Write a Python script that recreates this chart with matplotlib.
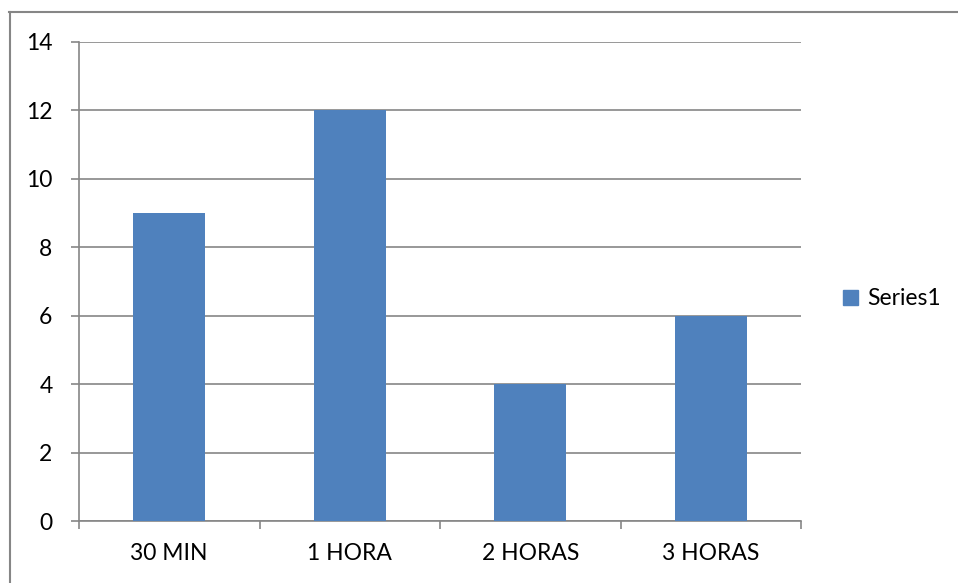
import matplotlib
matplotlib.use("Agg")
import matplotlib.pyplot as plt
from matplotlib.lines import Line2D
from matplotlib.patches import Patch

categories = ["30 MIN", "1 HORA", "2 HORAS", "3 HORAS"]
values = [9, 12, 4, 6]
series_name = "Series1"
yticks = [0, 2, 4, 6, 8, 10, 12, 14]

W, H = 958, 583
fig = plt.figure(figsize=(W / 100, H / 100), dpi=100)
plt.rcParams['font.family'] = ['Lato', 'DejaVu Sans']

L, R, T, B = 79, 801, 42, 521
ax = fig.add_axes([L / W, 1 - B / H, (R - L) / W, (B - T) / H])

grid_c = "#868686"
bar_c = "#4F81BD"
fs = 16.5

x = list(range(len(categories)))
ax.bar(x, values, width=0.4, color=bar_c, zorder=3)
ax.set_xlim(-0.5, len(categories) - 0.5)
ax.set_ylim(0, 14)
ax.set_yticks(yticks)
ax.set_yticklabels([str(v) for v in yticks], fontsize=fs)
ax.yaxis.grid(True, color=grid_c, linewidth=1.2, zorder=0)
ax.set_xticks(x)
ax.set_xticklabels(categories, fontsize=fs)
ax.tick_params(axis='x', length=0, pad=16)
ax.set_xticks([i - 0.5 for i in range(len(categories) + 1)], minor=True)
ax.tick_params(axis='x', which='minor', length=6, color=grid_c, width=1.2, direction='out')
ax.tick_params(axis='y', length=6, color=grid_c, width=1.2, pad=13)
for s in ['top', 'right']:
    ax.spines[s].set_visible(False)
for s in ['left', 'bottom']:
    ax.spines[s].set_color(grid_c)
    ax.spines[s].set_linewidth(1.2)
ax.set_axisbelow(True)

handle = Patch(facecolor=bar_c, edgecolor=bar_c)
fig.legend([handle], [series_name], loc='center left',
           bbox_to_anchor=(843 / W, 1 - 299 / H), frameon=False,
           fontsize=fs, handlelength=0.65, handleheight=0.65, handletextpad=0.4,
           borderaxespad=0, borderpad=0)

# outer chart border (top and left visible)
fig.add_artist(Line2D([9 / W, 1.05], [1 - 11.5 / H, 1 - 11.5 / H], color=grid_c, linewidth=1.5))
fig.add_artist(Line2D([9.5 / W, 9.5 / W], [-0.05, 1 - 11.5 / H], color=grid_c, linewidth=1.5))

fig.savefig("out.png", dpi=100, facecolor="white")
